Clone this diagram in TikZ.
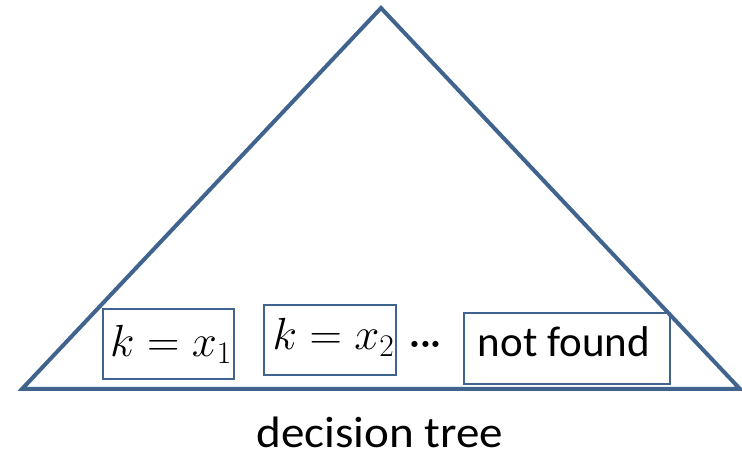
\RequirePackage{fix-cm}
\documentclass[tikz,border=0pt]{standalone}
\usepackage{graphicx}
\usepackage{fontspec}
\setmainfont{Carlito}
\definecolor{tblue}{HTML}{41648F}
\newcommand{\wideit}[1]{\scalebox{1.07}[1]{#1}}
\begin{document}
\begin{tikzpicture}[x=1pt,y=-1pt,
  tri/.style={draw=tblue,line width=4pt,line join=miter},
  leaf/.style={draw=tblue,line width=1.3pt,inner sep=0pt},
  mlbl/.style={font=\fontsize{45}{48}\selectfont,inner sep=0pt,anchor=base},
  lbl/.style={font=\fontsize{43}{46}\selectfont,inner sep=0pt,anchor=base}]
\useasboundingbox (0,0) rectangle (742,454);
\coordinate (apex) at (381,8);
\coordinate (bl) at (22,389);
\coordinate (br) at (740,389);
\draw[tri] (apex) -- (bl) -- (br) -- cycle;
\node[leaf,minimum width=131pt,minimum height=70pt] (l1) at (168.5,344) {};
\node[mlbl] (t1) at (171,357) {$k=x_1$};
\node[leaf,minimum width=132pt,minimum height=70pt] (l2) at (330,340) {};
\node[mlbl] (t2) at (333.5,350) {$k=x_2$};
\node[lbl] (dots) at (425.5,357) {\textperiodcentered\textperiodcentered\textperiodcentered};
\node[leaf,minimum width=206pt,minimum height=71pt] (nf) at (567,348.5) {};
\node[lbl] (t3) at (564,357) {not found};
\node[lbl,font=\fontsize{44}{46}\selectfont] (cap) at (380,447) {\wideit{decision tree}};
\end{tikzpicture}
\end{document}
